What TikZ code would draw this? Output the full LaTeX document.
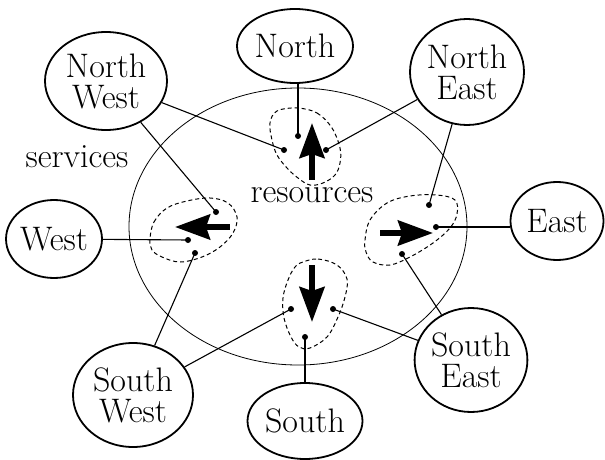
\documentclass[tikz,border=0pt]{standalone}
\usetikzlibrary{shapes.geometric,arrows.meta}
\begin{document}
\begin{tikzpicture}[x=1pt,y=-1pt,
  place/.style={draw,ellipse,line width=1.8pt,inner sep=0pt,align=center,
    font=\fontsize{34}{31}\selectfont},
  label/.style={font=\fontsize{34}{31}\selectfont,inner sep=0pt},
  dot/.style={circle,fill,inner sep=0pt,minimum size=6pt},
  link/.style={line width=1.1pt},
  region/.style={dashed,line width=1pt,dash pattern=on 4pt off 3pt},
  bigarrow/.style={line width=5.5pt,-{Stealth[length=35pt,width=25pt,inset=4pt]}}]
\useasboundingbox (0,0) rectangle (605,460);

% the system boundary
\draw[line width=0.8pt] (298,226.5) ellipse [x radius=169, y radius=138.5];

% outer service nodes
\node[place,minimum width=116pt,minimum height=74pt]  (N)  at (295,46)  {North};
\node[place,minimum width=122pt,minimum height=98pt]  (NW) at (106,81)  {North\\West};
\node[place,minimum width=113pt,minimum height=106pt] (NE) at (467,72)  {North\\East};
\node[place,minimum width=91pt,minimum height=78pt]   (W)  at (54,239)  {West};
\node[place,minimum width=93pt,minimum height=78pt]   (E)  at (557,221) {East};
\node[place,minimum width=120pt,minimum height=104pt] (SW) at (133,395) {South\\West};
\node[place,minimum width=115pt,minimum height=76pt]  (S)  at (305,421) {South};
\node[place,minimum width=110pt,minimum height=104pt] (SE) at (471,360) {South\\East};

% captions
\node[label] (services)  at (77,157)  {services};
\node[label] (resources) at (312,195) {resources};

% resource regions
\draw[region] plot[smooth cycle,tension=0.6] coordinates {
  (297,108) (317,113) (332,128) (340,148) (340,163) (335,175) (323,183)
  (310,185) (298,178) (287,168) (277,155) (272,140) (270,123) (277,111)};
\draw[region] plot[smooth cycle,tension=0.6] coordinates {
  (303,262) (318,259) (337,265) (347,279) (345,297) (338,317) (327,337)
  (310,348) (299,347) (291,337) (284,318) (283,298) (288,280) (295,267)};
\draw[region] plot[smooth cycle,tension=0.6] coordinates {
  (150,239) (154,222) (167,208) (187,201) (210,198) (228,203) (237,217)
  (233,233) (220,247) (202,257) (180,262) (162,257) (152,250)};
\draw[region] plot[smooth cycle,tension=0.6] coordinates {
  (365,240) (370,220) (387,203) (410,196) (437,195) (455,200) (457,214)
  (450,228) (433,243) (410,257) (390,265) (373,262) (366,252)};

% direction arrows
\coordinate (na0) at (312,180); \coordinate (na1) at (312,123);
\coordinate (sa0) at (312,265); \coordinate (sa1) at (312,322);
\coordinate (wa0) at (230,227); \coordinate (wa1) at (175,227);
\coordinate (ea0) at (380,233); \coordinate (ea1) at (433,233);
\draw[bigarrow] (na0) -- (na1);
\draw[bigarrow] (sa0) -- (sa1);
\draw[bigarrow] (wa0) -- (wa1);
\draw[bigarrow] (ea0) -- (ea1);

% access points
\node[dot] (n1) at (298,136) {};
\node[dot] (n2) at (284,150) {};
\node[dot] (n3) at (326,150) {};
\node[dot] (s1) at (291,309) {};
\node[dot] (s2) at (333,309) {};
\node[dot] (s3) at (305,337) {};
\node[dot] (w1) at (216,212) {};
\node[dot] (w2) at (188,240) {};
\node[dot] (w3) at (195,253) {};
\node[dot] (e1) at (429,205) {};
\node[dot] (e2) at (436,227) {};
\node[dot] (e3) at (402,254) {};

% service connections
\draw[link] (n1.center) -- (n1 |- N.south);
\draw[link] (n2.center) -- (NW);
\draw[link] (n3.center) -- (NE);
\draw[link] (w1.center) -- (NW);
\draw[link] (w2.center) -- (W);
\draw[link] (w3.center) -- (SW);
\draw[link] (e1.center) -- (NE);
\draw[link] (e2.center) -- (e2 -| E.west);
\draw[link] (e3.center) -- (SE);
\draw[link] (s1.center) -- (SW);
\draw[link] (s2.center) -- (SE);
\draw[link] (s3.center) -- (S);
\end{tikzpicture}
\end{document}
